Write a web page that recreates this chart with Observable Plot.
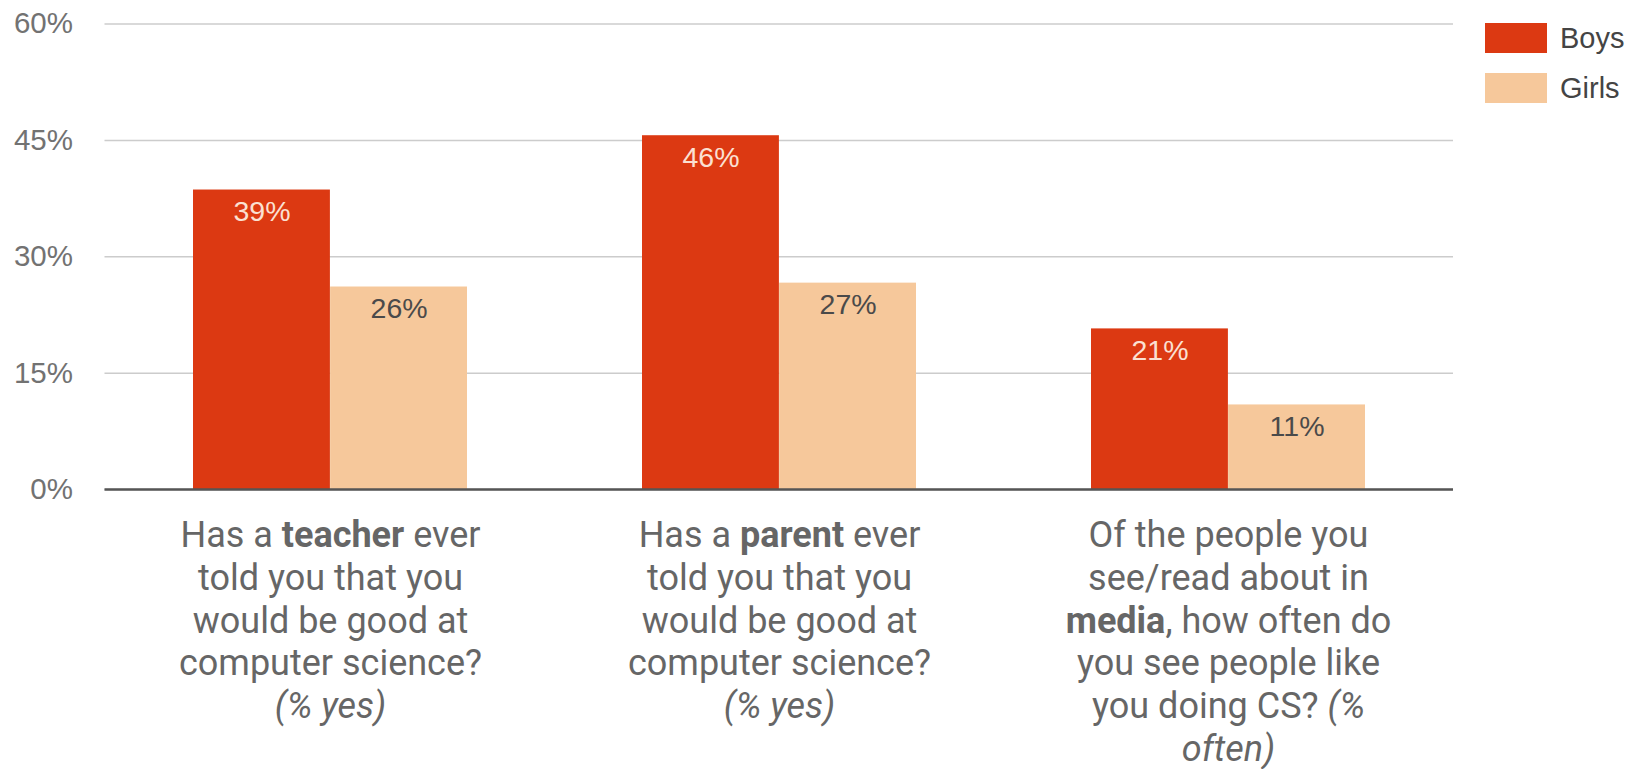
<!DOCTYPE html>
<html>
<head>
<meta charset="utf-8">
<script src="https://cdn.jsdelivr.net/npm/d3@7"></script>
<script src="https://cdn.jsdelivr.net/npm/@observablehq/plot@0.6"></script>
<style>
  html, body { margin: 0; padding: 0; background: #fff; }
  #wrap { position: relative; width: 1639px; height: 769px; overflow: hidden; }
  #legend { position: absolute; left: 1485px; top: 23px; font-family: "Liberation Sans", Arial, sans-serif; font-size: 29px; color: #444; }
  .item { display: flex; align-items: center; height: 30px; margin-bottom: 20px; }
  .sw { width: 62px; height: 30px; margin-right: 13px; }
</style>
</head>
<body>
<div id="wrap"><div id="legend"></div></div>
<script>
// ---- data ----
const questions = ["teacher", "parent", "media"];
const questionLabels = [
  "Has a **teacher** ever\ntold you that you\nwould be good at\ncomputer science?\n_(% yes)_",
  "Has a **parent** ever\ntold you that you\nwould be good at\ncomputer science?\n_(% yes)_",
  "Of the people you\nsee/read about in\n**media**, how often do\nyou see people like\nyou doing CS? _(%_\n_often)_"
];
const genders = ["Boys", "Girls"];
const boysValues = [38.6, 45.6, 20.7];
const girlsValues = [26.1, 26.6, 10.9];
const yTicks = [0, 15, 30, 45, 60];
const genderColors = ["#DC3912", "#F6C89B"];

// ---- layout ----
const W = 1639, H = 769;
const M = {top: 23.5, right: 186, bottom: 280, left: 104.5};
const xOpts = {type: "band", domain: questions, paddingInner: 0.39, paddingOuter: 0.195};
const bw = Plot.scale({x: {...xOpts, range: [M.left, W - M.right]}}).bandwidth;
const half = bw / 2;

// ---- table ----
const rows = [];
questions.forEach((q, i) => {
  rows.push({q, gender: "Boys", value: boysValues[i]});
  rows.push({q, gender: "Girls", value: girlsValues[i]});
});
const boysRows = rows.filter(d => d.gender === "Boys");
const girlsRows = rows.filter(d => d.gender === "Girls");
const labelOf = Object.fromEntries(questions.map((q, i) => [q, questionLabels[i]]));
const pct = d => Math.round(d.value) + "%";
const arial = "Liberation Sans, Arial, sans-serif";

const chart = Plot.plot({
  width: W,
  height: H,
  marginTop: M.top,
  marginBottom: M.bottom,
  marginLeft: M.left,
  marginRight: M.right,
  style: {background: "transparent"},
  x: {...xOpts, axis: null},
  y: {domain: [0, 60], axis: null},
  color: {domain: genders, range: genderColors},
  marks: [
    Plot.gridY(yTicks, {stroke: "#cccccc", strokeOpacity: 1, strokeWidth: 1.5}),
    Plot.barY(boysRows, {x: "q", y: "value", fill: "gender", insetRight: half}),
    Plot.barY(girlsRows, {x: "q", y: "value", fill: "gender", insetLeft: half}),
    Plot.text(boysRows, {x: "q", y: "value", text: pct, dx: -half / 2,
      lineAnchor: "top", dy: 11, fill: "#fbe0d2", fontSize: 28.5, fontFamily: arial}),
    Plot.text(girlsRows, {x: "q", y: "value", text: pct, dx: half / 2,
      lineAnchor: "top", dy: 11, fill: "#4a4a4a", fontSize: 28.5, fontFamily: arial}),
    Plot.ruleY([0], {stroke: "#555", strokeWidth: 2.5}),
    Plot.axisY(yTicks, {
      tickSize: 0, tickPadding: 32, label: null,
      tickFormat: d => d + "%", fontSize: 29.5, fill: "#727272", fontFamily: arial
    }),
    Plot.axisX({
      anchor: "bottom", tickSize: 0, tickPadding: 27, label: null,
      tickFormat: d => labelOf[d], fontSize: 36, lineHeight: 1.19,
      fill: "#666", fontFamily: "Roboto, sans-serif"
    })
  ]
});

// Rich formatting for the question labels (bold / italic words)
function enrich(el) {
  const txt = el.textContent;
  if (!/\*\*|_/.test(txt)) return;
  while (el.firstChild) el.removeChild(el.firstChild);
  const parts = txt.split(/(\*\*[^*]+\*\*|_[^_]+_)/).filter(s => s.length);
  for (const p of parts) {
    const t = document.createElementNS("http://www.w3.org/2000/svg", "tspan");
    if (p.startsWith("**")) { t.textContent = p.slice(2, -2); t.setAttribute("font-weight", "bold"); }
    else if (p.length > 1 && p.startsWith("_") && p.endsWith("_")) { t.textContent = p.slice(1, -1); t.setAttribute("font-style", "italic"); }
    else t.textContent = p;
    el.appendChild(t);
  }
}
chart.querySelectorAll('[aria-label="x-axis tick label"] text').forEach(text => {
  const spans = text.querySelectorAll("tspan");
  if (spans.length) spans.forEach(enrich); else enrich(text);
});

document.getElementById("wrap").prepend(chart);
chart.style.position = "absolute";
chart.style.left = "0";
chart.style.top = "0";

// Legend
const legend = document.getElementById("legend");
genders.forEach((g, i) => {
  const item = document.createElement("div");
  item.className = "item";
  const sw = document.createElement("div");
  sw.className = "sw";
  sw.style.background = genderColors[i];
  const lab = document.createElement("span");
  lab.textContent = g;
  item.append(sw, lab);
  legend.append(item);
});
</script>
</body>
</html>
